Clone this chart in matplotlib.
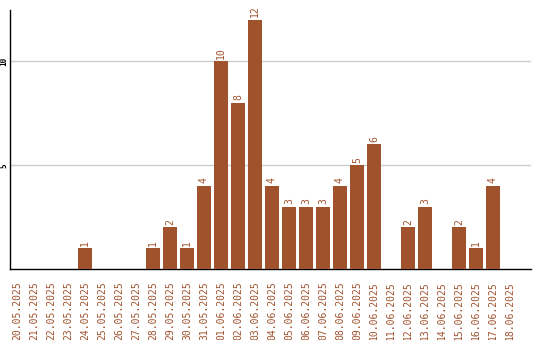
import matplotlib
matplotlib.use("Agg")
import matplotlib.pyplot as plt

dates = ["20.05.2025", "21.05.2025", "22.05.2025", "23.05.2025", "24.05.2025",
         "25.05.2025", "26.05.2025", "27.05.2025", "28.05.2025", "29.05.2025",
         "30.05.2025", "31.05.2025", "01.06.2025", "02.06.2025", "03.06.2025",
         "04.06.2025", "05.06.2025", "06.06.2025", "07.06.2025", "08.06.2025",
         "09.06.2025", "10.06.2025", "11.06.2025", "12.06.2025", "13.06.2025",
         "14.06.2025", "15.06.2025", "16.06.2025", "17.06.2025", "18.06.2025"]
counts = [0, 0, 0, 0, 1, 0, 0, 0, 1, 2, 1, 4, 10, 8, 12, 4, 3, 3, 3, 4, 5, 6,
          0, 2, 3, 0, 2, 1, 4, 0]
yticks = [5, 10]

color = "#A0522D"
mono = "DejaVu Sans Mono"

fig = plt.figure(figsize=(5.4, 3.4), dpi=100)
ax = fig.add_axes([10/540, 1 - 269/340, (531 - 10)/540, (269 - 10)/340])

x = list(range(len(dates)))
ax.bar(x, counts, width=0.82, color=color, zorder=3)
for xi, v in zip(x, counts):
    if v > 0:
        ax.text(xi, v + 0.12, str(v), rotation=90, ha="center", va="bottom",
                color=color, fontsize=7, family=mono)

ax.set_xlim(-0.41, 30.24)
ax.set_ylim(0, 12.48)
ax.set_xticks(x)
ax.set_xticklabels(dates, rotation=90, color=color, fontsize=7, family=mono,
                   va="top", ha="center")
ax.set_yticks(yticks)
ax.set_yticklabels([str(t) for t in yticks], rotation=90, fontsize=5.5,
                   family=mono, weight="bold", va="center", ha="right",
                   color="black")
ax.tick_params(axis="x", length=0, pad=9)
ax.tick_params(axis="y", length=0, pad=1)
ax.grid(axis="y", color="#cccccc", linewidth=1, zorder=0)
ax.set_axisbelow(True)
for s in ["top", "right"]:
    ax.spines[s].set_visible(False)
for s in ["left", "bottom"]:
    ax.spines[s].set_color("black")
    ax.spines[s].set_linewidth(1.0)

fig.savefig("out.png", dpi=100)
